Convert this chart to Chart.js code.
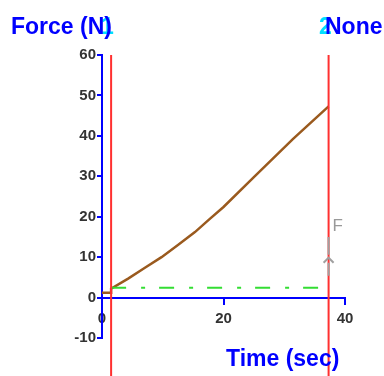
<!DOCTYPE html>
<html>
<head>
<meta charset="utf-8">
<script src="https://cdn.jsdelivr.net/npm/chart.js@4"></script>
<style>
  html, body { margin: 0; padding: 0; background: #fff; }
  #wrap { width: 384px; height: 376px; }
</style>
</head>
<body>
<div id="wrap"><canvas id="graph-force"></canvas></div>
<script>
// force sensor run
var timeValues = [0, 1.5, 1.5, 4.3, 7, 9.8, 12.5, 15.3, 17.7, 20, 25, 31.5, 37.3];
var forceValues = [1.2, 1.2, 2.2, 4.7, 7.3, 10, 13, 16.2, 19.4, 22.4, 29.8, 39.3, 47.3];

// reference (friction) line
var refTimes = [1.5, 37.3];
var refForce = [2.4, 2.4];

// cursors and force vector
var cursorTimes = [1.5, 37.3];
var vectorTime = 37.3;
var vectorForce = [5.4, 15];
var vectorHead = 9.6;

var yTicks = [-10, 0, 10, 20, 30, 40, 50, 60];
var xTicks = [0, 20, 40];

var blue = "#0000ff";

var overlay = {
    id: "overlay",
    afterDatasetsDraw: function (chart) {
        var ctx = chart.ctx;
        var xs = chart.scales.x, ys = chart.scales.y;
        ctx.save();

        // red cursors
        ctx.strokeStyle = "#ff3030";
        ctx.lineWidth = 2;
        cursorTimes.forEach(function (t) {
            var px = xs.getPixelForValue(t);
            ctx.beginPath();
            ctx.moveTo(px, ys.getPixelForValue(60));
            ctx.lineTo(px, chart.height);
            ctx.stroke();
        });

        // force vector
        var vx = xs.getPixelForValue(vectorTime);
        var v0 = ys.getPixelForValue(vectorForce[0]);
        var v1 = ys.getPixelForValue(vectorForce[1]);
        var vh = ys.getPixelForValue(vectorHead);
        ctx.strokeStyle = "#a0a0a0";
        ctx.lineWidth = 2;
        ctx.beginPath();
        ctx.moveTo(vx, v0);
        ctx.lineTo(vx, vh + 4);
        ctx.moveTo(vx, vh - 4);
        ctx.lineTo(vx, v1);
        ctx.moveTo(vx - 5, vh + 4);
        ctx.lineTo(vx, vh - 1);
        ctx.lineTo(vx + 5, vh + 4);
        ctx.stroke();
        ctx.fillStyle = "#999";
        ctx.font = "17px 'Liberation Sans', Arial, sans-serif";
        ctx.textAlign = "left";
        ctx.textBaseline = "alphabetic";
        ctx.fillText("F", vx + 4, ys.getPixelForValue(16.5));

        // titles
        ctx.font = "bold 23px 'Liberation Sans', Arial, sans-serif";
        ctx.fillStyle = "#00e0ff";
        ctx.fillText("1", 101, 34);
        ctx.fillText("2", 319, 34);
        ctx.fillStyle = blue;
        ctx.fillText("Force (N)", 11, 34);
        ctx.fillText("None", 325, 34);
        ctx.fillText("Time (sec)", 226, 366);
        ctx.restore();
    }
};

var forcePoints = timeValues.map(function (t, i) { return { x: t, y: forceValues[i] }; });
var refPoints = refTimes.map(function (t, i) { return { x: t, y: refForce[i] }; });

var tickFont = { family: "'Liberation Sans', Arial, sans-serif", size: 15, weight: "bold" };

new Chart("graph-force", {
    type: "scatter",
    data: {
        datasets: [{
            data: refPoints,
            showLine: true,
            borderColor: "#33dd33",
            borderWidth: 2,
            borderDash: [15, 15, 4, 14],
            pointRadius: 0
        }, {
            data: forcePoints,
            showLine: true,
            borderColor: "#9a5a1e",
            borderWidth: 2.5,
            pointRadius: 0
        }]
    },
    options: {
        responsive: true,
        maintainAspectRatio: false,
        animation: false,
        layout: { padding: { top: 55, right: 39, bottom: 38, left: 0 } },
        plugins: { legend: { display: false }, tooltip: { enabled: false } },
        scales: {
            x: {
                type: "linear",
                position: { y: 0 },
                min: 0, max: 40,
                afterBuildTicks: function (s) { s.ticks = xTicks.map(function (v) { return { value: v }; }); },
                grid: { drawOnChartArea: false, drawTicks: true, tickLength: 6, color: blue, lineWidth: 2 },
                border: { color: blue, width: 2 },
                ticks: { color: "#333", font: tickFont, padding: 6, maxRotation: 0 }
            },
            y: {
                min: -10, max: 60,
                afterBuildTicks: function (s) { s.ticks = yTicks.map(function (v) { return { value: v }; }); },
                afterFit: function (s) { s.width = 102; },
                grid: { drawOnChartArea: false, drawTicks: true, tickLength: 5, color: blue, lineWidth: 2 },
                border: { color: blue, width: 2 },
                ticks: { color: "#333", font: tickFont, padding: 1 }
            }
        }
    },
    plugins: [overlay]
});
</script>
</body>
</html>
